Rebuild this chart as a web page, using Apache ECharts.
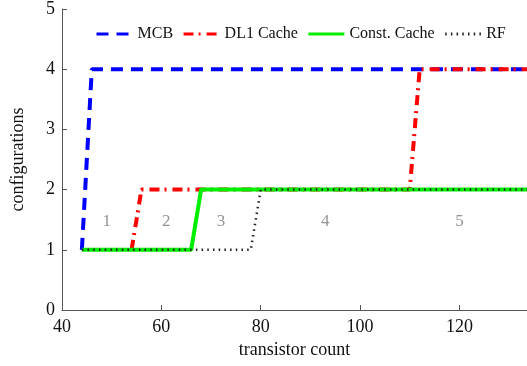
<!DOCTYPE html>
<html>
<head>
<meta charset="utf-8">
<script src="https://cdn.jsdelivr.net/npm/echarts@6/dist/echarts.min.js"></script>
<style>
  html, body { margin: 0; padding: 0; background: #fff; }
  #chart { width: 527px; height: 366px; }
</style>
</head>
<body>
<div id="chart"></div>
<script>
// step lines, [transistor count, configurations]
const mcb = [[44, 1], [46, 4], [134, 4]]
const dl1Cache = [[54, 1], [56, 2], [110, 2], [112, 4], [134, 4]]
const constCache = [[44, 1], [66, 1], [68, 2], [134, 2]]
const rf = [[44, 1], [78, 1], [80, 2], [134, 2]]

// region numbers written inside the plot
const regionNames = ['1', '2', '3', '4', '5']
const regionX = [49, 61, 72, 93, 120]
const regionY = 1.47

const seriesNames = ['MCB', 'DL1 Cache', 'Const. Cache', 'RF']

const font = '"Liberation Serif", "Times New Roman", serif'
const chart = echarts.init(document.getElementById('chart'))

const option = {
  animation: false,
  grid: { left: 62, right: 0, top: 7, bottom: 56 },
  legend: {
    data: seriesNames,
    left: 90,
    top: 21,
    itemWidth: 36,
    itemHeight: 10,
    itemGap: 9,
    lineStyle: { width: 3 },
    itemStyle: { color: 'transparent', borderColor: 'transparent', borderWidth: 0 },
    textStyle: { fontFamily: font, fontSize: 16, color: '#111' }
  },
  xAxis: {
    type: 'value',
    min: 40,
    max: 133.6,
    interval: 20,
    name: 'transistor count',
    nameLocation: 'middle',
    nameGap: 31,
    nameTextStyle: { fontFamily: font, fontSize: 18, color: '#111' },
    axisLine: { lineStyle: { color: '#555', width: 1 } },
    axisTick: { inside: true, length: 5, lineStyle: { color: '#555' } },
    axisLabel: { fontFamily: font, fontSize: 18, color: '#111', margin: 8, showMaxLabel: false },
    splitLine: { show: false }
  },
  yAxis: {
    type: 'value',
    min: 0,
    max: 5,
    interval: 1,
    name: 'configurations',
    nameLocation: 'middle',
    nameGap: 35,
    nameTextStyle: { fontFamily: font, fontSize: 18, color: '#111' },
    axisLine: { show: true, lineStyle: { color: '#555', width: 1 } },
    axisTick: { show: true, inside: true, length: 5, lineStyle: { color: '#555' } },
    axisLabel: { fontFamily: font, fontSize: 18, color: '#111', margin: 7 },
    splitLine: { show: false }
  },
  series: [
    {
      name: 'MCB',
      type: 'line',
      data: mcb,
      symbol: 'none',
      color: '#0000ff',
      lineStyle: { width: 4, type: [12, 8], color: '#0000ff' },
      z: 2
    },
    {
      name: 'DL1 Cache',
      type: 'line',
      data: dl1Cache,
      symbol: 'none',
      color: '#ff0000',
      lineStyle: { width: 4, type: [10, 5, 2, 6], color: '#ff0000' },
      z: 3
    },
    {
      name: 'Const. Cache',
      type: 'line',
      data: constCache,
      symbol: 'none',
      color: '#00ee00',
      lineStyle: { width: 4, color: '#00ee00' },
      z: 4
    },
    {
      name: 'RF',
      type: 'line',
      data: rf,
      symbol: 'none',
      color: '#222',
      lineStyle: { width: 2.5, type: [1.5, 4.2], color: '#222' },
      z: 5
    },
    {
      name: 'regions',
      type: 'scatter',
      symbolSize: 0,
      data: regionNames.map((n, i) => ({ name: n, value: [regionX[i], regionY] })),
      label: {
        show: true,
        position: 'inside',
        formatter: '{b}',
        fontFamily: font,
        fontSize: 17,
        color: '#777'
      },
      silent: true
    }
  ]
}
chart.setOption(option)
</script>
</body>
</html>
